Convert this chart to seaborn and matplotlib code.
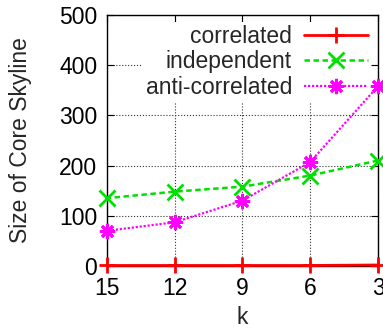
import matplotlib
matplotlib.use("Agg")
import matplotlib.pyplot as plt
import seaborn as sns

k_values = [15, 12, 9, 6, 3]
correlated = [1, 1, 1, 1, 2]
independent = [135, 148, 158, 180, 210]
anti_correlated = [70, 87, 130, 207, 358]

series = [
	("correlated", correlated, "#ff0000", "-", "+", 2.0),
	("independent", independent, "#00e000", (0, (2.2, 1.4)), "x", 1.8),
	("anti-correlated", anti_correlated, "#ff00ff", (0, (1, 0.8)), (8, 2, 0), 1.6),
]

sns.set_style("ticks")
plt.rcParams["font.family"] = ["Liberation Sans", "DejaVu Sans"]

fig = plt.figure(figsize=(3.83, 3.30), dpi=100)
ax = fig.add_axes([0.279, 0.194, 0.708, 0.761])

for name, values, color, ls, marker, lw in series:
	sns.lineplot(
		x=k_values, y=values, ax=ax, color=color, linestyle=ls, marker=marker,
		markersize=11, markeredgewidth=2, markeredgecolor=color, linewidth=lw,
		label=name, clip_on=False, zorder=3,
	)

ax.set_xlim(15, 3)
ax.set_ylim(0, 500)
ax.set_xticks(k_values)
ax.set_yticks([0, 100, 200, 300, 400, 500])
ax.grid(True, linestyle=":", color="#333333", linewidth=0.8)
ax.set_axisbelow(True)
for s in ax.spines.values():
	s.set_visible(True)
	s.set_color("black")
	s.set_linewidth(1)
ax.tick_params(direction="in", top=True, right=True, length=5, labelsize=16.5, colors="black")
ax.tick_params(axis="x", pad=8)
ax.tick_params(axis="y", pad=7)
ax.set_xlabel("k", fontsize=16.5, labelpad=4)
ax.set_ylabel("Size of Core Skyline", fontsize=16.5, labelpad=19)

leg = ax.legend(
	loc="upper right", markerfirst=False, fontsize=16.5, handlelength=2.8,
	frameon=True, framealpha=1, facecolor="white", edgecolor="none",
	borderpad=0.15, labelspacing=0.1, handletextpad=0.5, borderaxespad=0.3,
	fancybox=False,
)
leg.set_zorder(1.5)

fig.savefig("out.png", dpi=100)
